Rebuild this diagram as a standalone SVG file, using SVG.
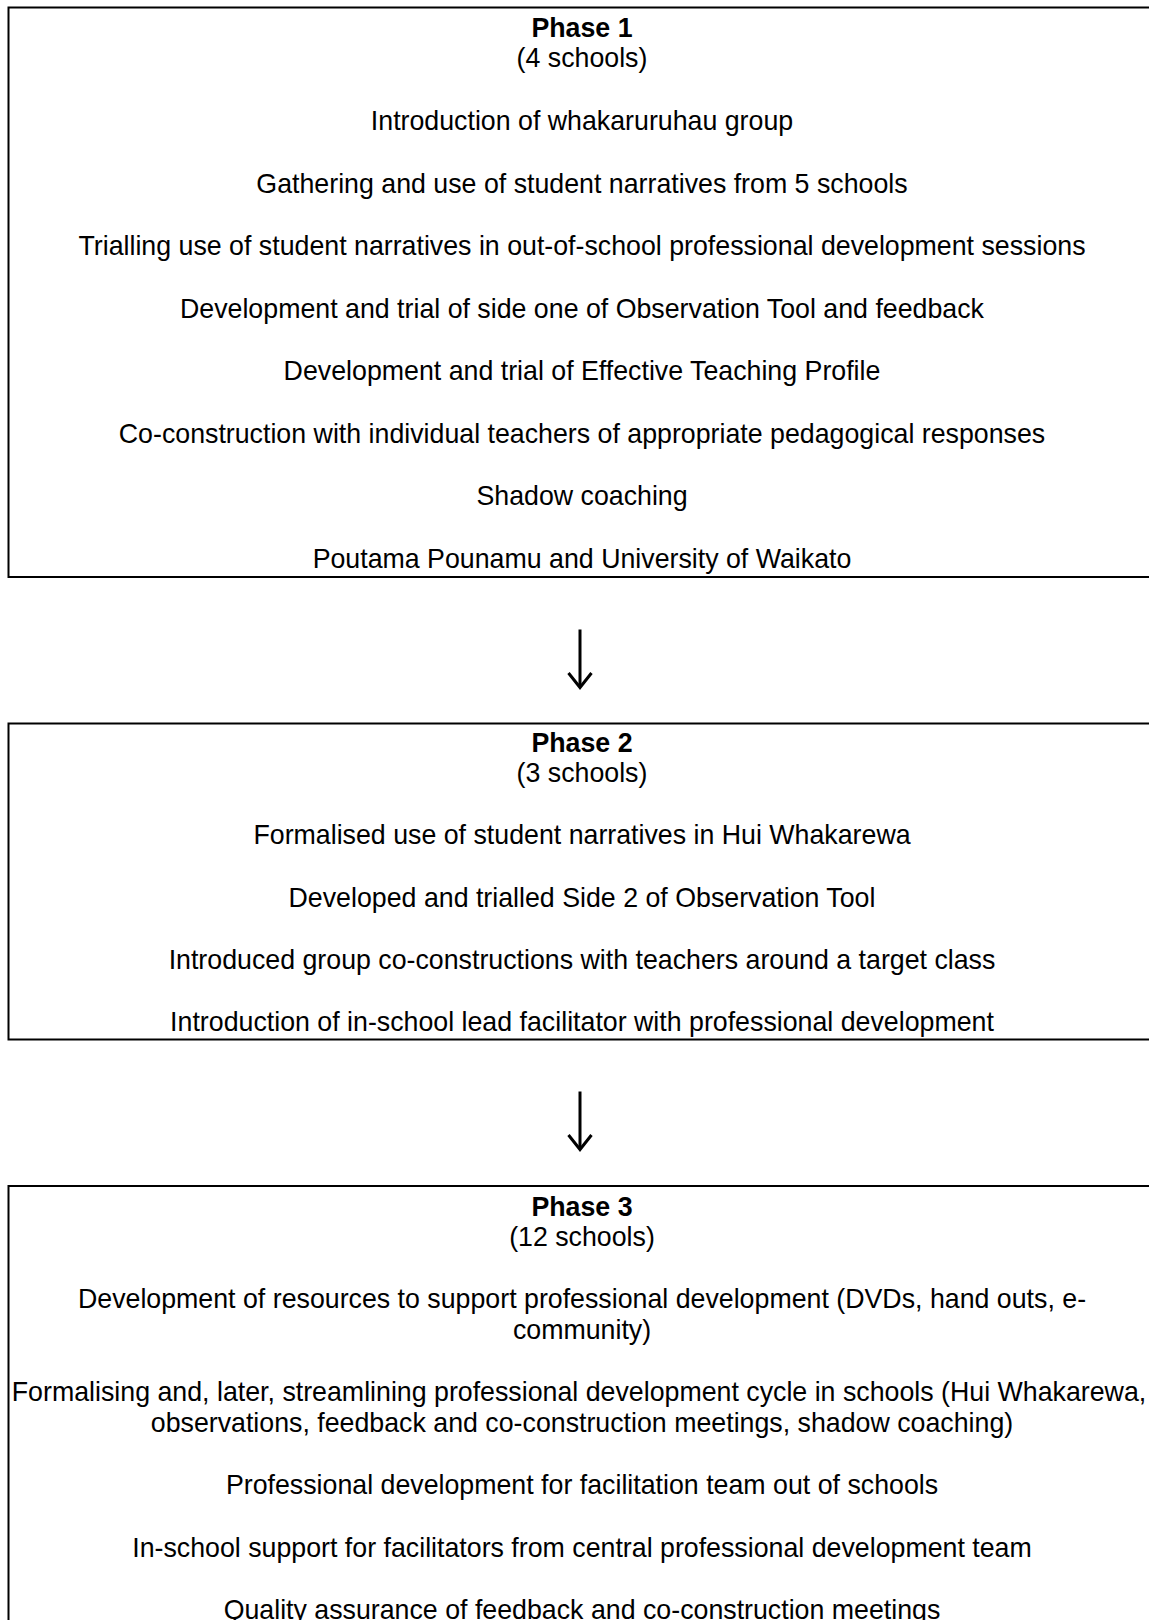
<svg xmlns="http://www.w3.org/2000/svg" width="1149" height="1620" viewBox="0 0 1149 1620">
<style>
  .box { fill: #ffffff; stroke: #000000; stroke-width: 2; }
  text { font-family: "Liberation Sans", Arial, sans-serif; font-size: 26.75px; fill: #000000; text-anchor: middle; }
  .title { font-weight: bold; }
  .conn { fill: none; stroke: #000000; stroke-width: 3; stroke-linecap: butt; stroke-linejoin: miter; }
</style>
<rect x="0" y="0" width="1149" height="1620" fill="#ffffff"/>
<g id="phase1">
  <rect class="box" x="8.5" y="7.5" width="1160" height="569.5"/>
  <text class="title" x="582" y="37">Phase 1</text>
  <text x="582" y="67">(4 schools)</text>
  <text x="582" y="130">Introduction of whakaruruhau group</text>
  <text x="582" y="192.5">Gathering and use of student narratives from 5 schools</text>
  <text x="582" y="255">Trialling use of student narratives in out-of-school professional development sessions</text>
  <text x="582" y="317.5">Development and trial of side one of Observation Tool and feedback</text>
  <text x="582" y="380">Development and trial of Effective Teaching Profile</text>
  <text x="582" y="442.5">Co-construction with individual teachers of appropriate pedagogical responses</text>
  <text x="582" y="505">Shadow coaching</text>
  <text x="582" y="567.5">Poutama Pounamu and University of Waikato</text>
</g>
<g id="phase2">
  <rect class="box" x="8.5" y="723.5" width="1160" height="316"/>
  <text class="title" x="582" y="752">Phase 2</text>
  <text x="582" y="782">(3 schools)</text>
  <text x="582" y="844">Formalised use of student narratives in Hui Whakarewa</text>
  <text x="582" y="906.5">Developed and trialled Side 2 of Observation Tool</text>
  <text x="582" y="969">Introduced group co-constructions with teachers around a target class</text>
  <text x="582" y="1031">Introduction of in-school lead facilitator with professional development</text>
</g>
<g id="phase3">
  <rect class="box" x="8.5" y="1186" width="1160" height="500"/>
  <text class="title" x="582" y="1215.5">Phase 3</text>
  <text x="582" y="1245.5">(12 schools)</text>
  <text x="582" y="1308">Development of resources to support professional development (DVDs, hand outs, e-</text>
  <text x="582" y="1338.5">community)</text>
  <text x="579" y="1401">Formalising and, later, streamlining professional development cycle in schools (Hui Whakarewa,</text>
  <text x="582" y="1431.5">observations, feedback and co-construction meetings, shadow coaching)</text>
  <text x="582" y="1494">Professional development for facilitation team out of schools</text>
  <text x="582" y="1556.5">In-school support for facilitators from central professional development team</text>
  <text x="582" y="1619">Quality assurance of feedback and co-construction meetings</text>
</g>
<g id="connectors">
  <g id="arrow1">
    <path class="conn" d="M580 629.5 V687"/>
    <path class="conn" d="M568.5 673 L580 687.5 L591.5 673"/>
  </g>
  <g id="arrow2">
    <path class="conn" d="M580 1091.5 V1149"/>
    <path class="conn" d="M568.5 1135 L580 1149.5 L591.5 1135"/>
  </g>
</g>
</svg>
